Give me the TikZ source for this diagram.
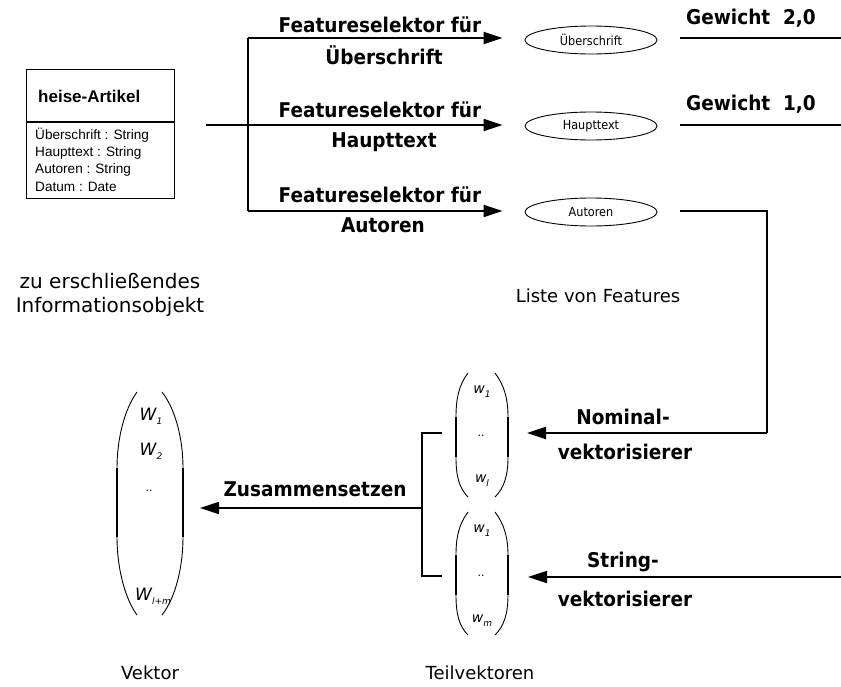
\documentclass[tikz,border=0pt]{standalone}
\usepackage{fontspec}
\setmainfont{DejaVu Sans}
\newfontfamily\umlfont{Liberation Sans}
\newfontfamily\narrowfont[FakeStretch=0.9]{DejaVu Sans}
\newfontfamily\labelfont[FakeStretch=0.91]{DejaVu Sans Bold}
\usetikzlibrary{arrows.meta,shapes.geometric}

% subscripted vector component
\newcommand{\comp}[3]{{\fontsize{#1}{#1}\selectfont\itshape #2}\raisebox{-0.4em}{\fontsize{9}{9}\selectfont\itshape #3}}

\begin{document}
\begin{tikzpicture}[x=1pt,y=-1pt,
  line/.style={line width=1.8pt},
  arr/.style={line width=1.8pt,-{Triangle[length=19pt,width=12pt]}},
  boldlabel/.style={font=\labelfont\fontsize{20.3}{22}\selectfont,inner sep=0pt},
  plainlabel/.style={font=\fontsize{18}{24}\selectfont,inner sep=0pt,align=center},
  feat/.style={draw,ellipse,line width=0.9pt,minimum width=132pt,minimum height=28pt,inner sep=0pt,font=\narrowfont\fontsize{12.5}{13}\selectfont},
  umltext/.style={font=\umlfont\fontsize{13.6}{15}\selectfont,inner sep=0pt,anchor=west},
  parenthin/.style={line width=0.9pt},
  parenthick/.style={line width=1.8pt},
  entry/.style={inner sep=0pt}
]
\useasboundingbox (0,0) rectangle (841,686);

% ---- information object (UML class) ----
\node[draw,line width=1.2pt,minimum width=148pt,minimum height=129pt,inner sep=0pt,anchor=north west] (uml) at (26,69) {};
\draw[line width=1.2pt] (26,122) coordinate (sepL) -- (174,122) coordinate (sepR);
\node[umltext,font=\umlfont\fontsize{17}{18}\selectfont\bfseries] (umltitle) at (38,96) {heise-Artikel};
\node[umltext] (a1) at (35,135) {Überschrift : String};
\node[umltext] (a2) at (35,153) {Haupttext : String};
\node[umltext] (a3) at (35,170) {Autoren : String};
\node[umltext] (a4) at (35,187) {Datum : Date};

\node[plainlabel,font=\fontsize{20}{24}\selectfont] (objlabel) at (110,295) {zu erschließendes\\Informationsobjekt};

% ---- feature list ----
\node[feat] (fU) at (591,40) {Überschrift};
\node[feat] (fH) at (591,126) {Haupttext};
\node[feat] (fA) at (591,212) {Autoren};
\node[plainlabel] (listlabel) at (598,296) {Liste von Features};

% ---- feature selectors ----
\coordinate (in) at (206,125);
\coordinate (fork) at (248,125);
\coordinate (forkT) at (248,38);
\coordinate (forkB) at (248,211);
\draw[line] (forkT) -- (forkB);
\draw[arr,shorten >=22pt] (forkT) -- (forkT -| fU.west);
\draw[arr,shorten >=22pt] (in) -- (in -| fH.west);
\draw[arr,shorten >=22pt] (forkB) -- (forkB -| fA.west);

\node[boldlabel] (s1a) at (380,25) {Featureselektor für};
\node[boldlabel] (s1b) at (384,55) {Überschrift};
\node[boldlabel] (s2a) at (380,110) {Featureselektor für};
\node[boldlabel] (s2b) at (384,142) {Haupttext};
\node[boldlabel] (s3a) at (380,195) {Featureselektor für};
\node[boldlabel] (s3b) at (383,225) {Autoren};

% ---- weights ----
\coordinate (w1s) at (680,38);
\coordinate (w1e) at (841,38);
\coordinate (w2s) at (680,125);
\coordinate (w2e) at (841,125);
\draw[line] (w1s) -- (w1e);
\draw[line] (w2s) -- (w2e);
\node[boldlabel,anchor=west] (g1) at (686,18) {Gewicht\ \ 2,0};
\node[boldlabel,anchor=west] (g2) at (686,104) {Gewicht\ \ 1,0};

% ---- vectorisers ----
\coordinate (aout) at (680,211);
\coordinate (acorner) at (767,211);
\coordinate (adown) at (767,433);
\coordinate (nomtip) at (527,433);
\draw[line,line join=miter] (aout) -- (acorner) -- (adown);
\draw[arr] (adown) -- (nomtip);
\node[boldlabel] (nom1) at (623,417) {Nominal-};
\node[boldlabel] (nom2) at (625,452) {vektorisierer};

\coordinate (strin) at (841,577);
\coordinate (strtip) at (528,577);
\draw[arr] (strin) -- (strtip);
\node[boldlabel] (str1) at (623,562) {String-};
\node[boldlabel] (str2) at (625,599) {vektorisierer};

% ---- partial vectors ----
% upper partial vector
\draw[parenthin] (468,373) .. controls (459,385) and (456,398) .. (456,417);
\draw[parenthick] (456,417) -- (456,457);
\draw[parenthin] (456,457) .. controls (456,476) and (459,488) .. (468,497);
\draw[parenthin] (495,373) .. controls (504,385) and (508,398) .. (508,417);
\draw[parenthick] (508,417) -- (508,457);
\draw[parenthin] (508,457) .. controls (508,476) and (504,488) .. (495,497);
\node[entry] (p1a) at (482,392) {\comp{14}{w}{1}};
\node[entry] (p1b) at (481,436) {\fontsize{11}{11}\selectfont ..};
\node[entry] (p1c) at (482,481) {\comp{14}{w}{l}};

% lower partial vector
\draw[parenthin] (468,512) .. controls (459,524) and (456,537) .. (456,555);
\draw[parenthick] (456,555) -- (456,595);
\draw[parenthin] (456,595) .. controls (456,614) and (459,626) .. (468,635);
\draw[parenthin] (495,512) .. controls (504,524) and (508,537) .. (508,555);
\draw[parenthick] (508,555) -- (508,595);
\draw[parenthin] (508,595) .. controls (508,614) and (504,626) .. (495,635);
\node[entry] (p2a) at (482,531) {\comp{14}{w}{1}};
\node[entry] (p2b) at (481,576) {\fontsize{11}{11}\selectfont ..};
\node[entry] (p2c) at (482,621) {\comp{14}{w}{m}};

\node[plainlabel] (partlabel) at (480,673) {Teilvektoren};

% ---- composition ----
\coordinate (mT) at (442,433);
\coordinate (mTc) at (422,433);
\coordinate (mB) at (442,576);
\coordinate (mBc) at (422,576);
\coordinate (mJ) at (422,508);
\coordinate (vtip) at (200,508);
\draw[line width=1.5pt,line join=miter] (mT) -- (mTc) -- (mBc) -- (mB);
\draw[arr] (mJ) -- (vtip);
\node[boldlabel] (zus) at (315,489) {Zusammensetzen};

% ---- resulting vector ----
\draw[parenthin] (137,392) .. controls (124,410) and (117,440) .. (117,468);
\draw[parenthick] (117,468) -- (117,537);
\draw[parenthin] (117,537) .. controls (117,566) and (124,597) .. (137,615);
\draw[parenthin] (162,392) .. controls (176,410) and (183,440) .. (183,468);
\draw[parenthick] (183,468) -- (183,537);
\draw[parenthin] (183,537) .. controls (183,566) and (176,597) .. (162,615);
\node[entry] (v1) at (151,416) {\comp{17}{W}{1}};
\node[entry] (v2) at (151,451) {\comp{17}{W}{2}};
\node[entry] (v3) at (149,491) {\fontsize{11}{11}\selectfont ..};
\node[entry] (v4) at (153,596) {\comp{17}{W}{l+m}};

\node[plainlabel] (veclabel) at (150,673) {Vektor};
\end{tikzpicture}
\end{document}
